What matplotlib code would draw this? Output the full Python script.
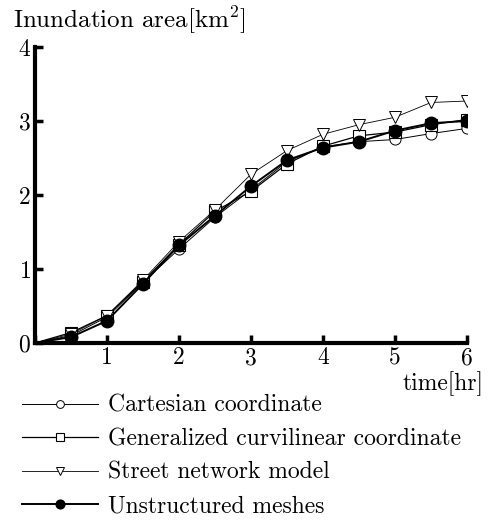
import matplotlib
matplotlib.use("Agg")
import matplotlib.pyplot as plt

plt.rcParams['font.family'] = ['cmr10', 'DejaVu Serif']
plt.rcParams['mathtext.fontset'] = 'cm'
plt.rcParams['axes.formatter.use_mathtext'] = True

time = [0, 0.5, 1, 1.5, 2, 2.5, 3, 3.5, 4, 4.5, 5, 5.5, 6]
cartesian = [0, 0.10, 0.35, 0.82, 1.27, 1.70, 2.07, 2.45, 2.65, 2.72, 2.75, 2.83, 2.90]
curvilinear = [0, 0.14, 0.37, 0.83, 1.33, 1.78, 2.05, 2.42, 2.66, 2.80, 2.85, 2.95, 3.02]
street = [0, 0.12, 0.37, 0.85, 1.37, 1.80, 2.28, 2.60, 2.82, 2.95, 3.05, 3.25, 3.27]
unstructured = [0, 0.08, 0.30, 0.80, 1.32, 1.72, 2.12, 2.47, 2.64, 2.72, 2.87, 2.97, 3.00]

fig = plt.figure(figsize=(4.88, 5.25), dpi=100)
ax = fig.add_axes([0.0717, 0.3467, 0.8853, 0.5638])

mk = list(range(1, 13))
ax.plot(time, cartesian, 'o-', color='black', lw=0.7, mfc='white', ms=8, mew=0.7,
        label='Cartesian coordinate', markevery=mk)
ax.plot(time, curvilinear, 's-', color='black', lw=0.9, mfc='white', ms=8, mew=0.8,
        label='Generalized curvilinear coordinate', markevery=mk)
ax.plot(time, street, 'v-', color='black', lw=0.6, mfc='white', ms=9, mew=0.7,
        label='Street network model', markevery=mk)
ax.plot(time, unstructured, 'o-', color='black', lw=1.4, mfc='black', ms=9,
        label='Unstructured meshes', markevery=mk)

ax.set_xlim(0, 6)
ax.set_ylim(0, 4)
ax.set_xticks([0, 1, 2, 3, 4, 5, 6])
ax.set_xticklabels(['', '1', '2', '3', '4', '5', '6'])
ax.set_yticks([0, 1, 2, 3, 4])
ax.spines['top'].set_visible(False)
ax.spines['right'].set_visible(False)
ax.spines['left'].set_linewidth(3)
ax.spines['bottom'].set_linewidth(3)
ax.tick_params(direction='in', length=6, width=2.5, labelsize=17, pad=3)

fig.text(0.027, 0.962, 'Inundation area[km$^2$]', fontsize=18, va='center', ha='left')
fig.text(0.99, 0.27, 'time[hr]', fontsize=17, va='center', ha='right')

fig.legend(loc='upper left', bbox_to_anchor=(0.045, 0.248), frameon=False,
           borderpad=0, borderaxespad=0,
           handlelength=3.2, handletextpad=0.45, labelspacing=0.48, fontsize=17,
           markerscale=0.7)

plt.savefig('out.png', dpi=100)
